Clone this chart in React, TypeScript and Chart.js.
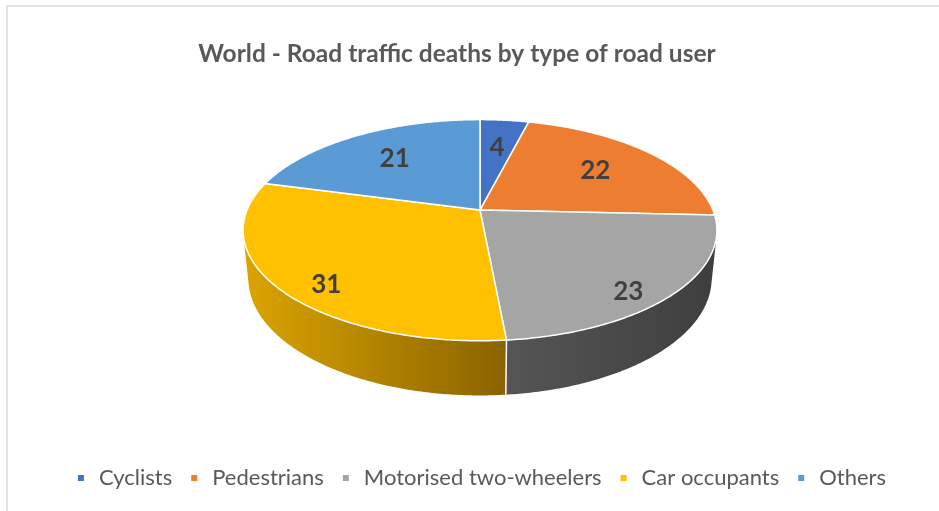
import React, { useEffect, useRef } from "react";
import { Chart, registerables } from "chart.js";

Chart.register(...registerables);

const categories = ["Cyclists", "Pedestrians", "Motorised two-wheelers", "Car occupants", "Others"];
const deaths = [4, 22, 23, 31, 21];
const topColors = ["#4472C4", "#ED7D31", "#A5A5A5", "#FFC000", "#5B9BD5"];
const sideLightColors = ["#3A64B0", "#D86C22", "#555555", "#DBA400", "#4C88C0"];
const sideDarkColors = ["#2A4A85", "#9E4E15", "#3E3E3E", "#8A6300", "#38668F"];
const chartTitle = "World - Road traffic deaths by type of road user";

// 3D view constants (camera tilt / distance / disc thickness)
const SIN_T = 0.459;
const COS_T = Math.sqrt(1 - SIN_T * SIN_T);
const CAM_D = 4.886;
const THICK = 0.236;
const SCALE_K = 1.273;
const SHIFT_K = 0.322;

const pie3d = {
  id: "pie3d",
  beforeDraw(chart: any) {
    const ctx = chart.ctx;
    ctx.save();
    ctx.strokeStyle = "#D9D9D9";
    ctx.lineWidth = 1.5;
    ctx.beginPath();
    ctx.moveTo(7, chart.height + 5);
    ctx.lineTo(7, 6);
    ctx.lineTo(chart.width + 5, 6);
    ctx.stroke();
    ctx.fillStyle = "#595959";
    ctx.font = "bold 24.5px Lato";
    ctx.textAlign = "center";
    ctx.textBaseline = "alphabetic";
    ctx.fillText(chartTitle, 457, 62);
    ctx.restore();
  },
  beforeDatasetsDraw(chart: any) {
    const ctx = chart.ctx;
    const arcs = chart.getDatasetMeta(0).data as any[];
    if (!arcs.length) return false;
    const R = arcs[0].outerRadius;
    const cx = arcs[0].x;
    const cy = arcs[0].y - R * SHIFT_K;
    const F = R * SCALE_K;
    const proj = (th: number, r: number, z: number) => {
      const u = r * Math.sin(th);
      const v = r * Math.cos(th);
      const depth = CAM_D + COS_T * v - SIN_T * z;
      return [cx + (F * CAM_D * u) / depth, cy - (F * CAM_D * (SIN_T * v + COS_T * z)) / depth];
    };
    const visLo = Math.acos(-1 / (CAM_D * COS_T));
    const visHi = 2 * Math.PI - visLo;
    ctx.save();
    ctx.lineJoin = "round";
    // side walls
    arcs.forEach((arc, i) => {
      const t1 = Math.max(arc.startAngle + Math.PI / 2, visLo);
      const t2 = Math.min(arc.endAngle + Math.PI / 2, visHi);
      if (t2 <= t1) return;
      const n = Math.max(2, Math.ceil((t2 - t1) / 0.01));
      const top: number[][] = [];
      const bot: number[][] = [];
      for (let k = 0; k <= n; k++) {
        const t = t1 + ((t2 - t1) * k) / n;
        top.push(proj(t, 1, 0));
        bot.push(proj(t, 1, -THICK));
      }
      const xs = top.map((p) => p[0]);
      const xmin = Math.min(...xs);
      const xmax = Math.max(...xs);
      const g = ctx.createLinearGradient(xmin, 0, xmax, 0);
      g.addColorStop(0, sideLightColors[i]);
      g.addColorStop(1, sideDarkColors[i]);
      ctx.beginPath();
      top.forEach((p, k) => (k ? ctx.lineTo(p[0], p[1]) : ctx.moveTo(p[0], p[1])));
      for (let k = bot.length - 1; k >= 0; k--) ctx.lineTo(bot[k][0], bot[k][1]);
      ctx.closePath();
      ctx.fillStyle = g;
      ctx.fill();
    });
    // side boundary lines
    ctx.strokeStyle = "#FFFFFF";
    ctx.lineWidth = 1.5;
    arcs.forEach((arc) => {
      const t = arc.startAngle + Math.PI / 2;
      if (t > visLo && t < visHi) {
        const a = proj(t, 1, 0);
        const b = proj(t, 1, -THICK);
        ctx.beginPath();
        ctx.moveTo(a[0], a[1]);
        ctx.lineTo(b[0], b[1]);
        ctx.stroke();
      }
    });
    // top faces
    arcs.forEach((arc, i) => {
      const t1 = arc.startAngle + Math.PI / 2;
      const t2 = arc.endAngle + Math.PI / 2;
      const n = Math.max(2, Math.ceil((t2 - t1) / 0.01));
      const c = proj(0, 0, 0);
      ctx.beginPath();
      ctx.moveTo(c[0], c[1]);
      for (let k = 0; k <= n; k++) {
        const p = proj(t1 + ((t2 - t1) * k) / n, 1, 0);
        ctx.lineTo(p[0], p[1]);
      }
      ctx.closePath();
      ctx.fillStyle = topColors[i];
      ctx.fill();
      ctx.strokeStyle = "#FFFFFF";
      ctx.lineWidth = 1.5;
      ctx.stroke();
    });
    // labels
    ctx.fillStyle = "#404040";
    ctx.font = "bold 26px Lato";
    ctx.textAlign = "center";
    ctx.textBaseline = "middle";
    const values = chart.data.datasets[0].data;
    arcs.forEach((arc, i) => {
      const tm = (arc.startAngle + arc.endAngle) / 2 + Math.PI / 2;
      const front = Math.max(0, -Math.cos(tm));
      const p = proj(tm, 0.66 + 0.2 * front, -THICK * 0.45 * front);
      ctx.fillText(String(values[i]), p[0], p[1]);
    });
    ctx.restore();
    return false;
  },
};

export default function App() {
  const ref = useRef<HTMLCanvasElement>(null);
  useEffect(() => {
    if (!ref.current) return;
    Chart.defaults.font.family = "Lato";
    const chart = new Chart(ref.current, {
      type: "pie",
      data: {
        labels: categories,
        datasets: [{ data: deaths, backgroundColor: topColors, borderWidth: 0 }],
      },
      options: {
        animation: false,
        responsive: true,
        maintainAspectRatio: false,
        layout: { padding: { top: 86, bottom: 12, left: 21, right: 0 } },
        plugins: {
          title: { display: false },
          tooltip: { enabled: false },
          legend: {
            position: "bottom",
            labels: {
              usePointStyle: true,
              pointStyle: "rect",
              boxWidth: 14,
              boxHeight: 6,
              padding: 15,
              color: "#595959",
              font: { family: "Lato", size: 22 },
            },
          },
        },
      },
      plugins: [pie3d],
    } as any);
    return () => chart.destroy();
  }, []);
  return (
    <div style={{ position: "fixed", left: 0, top: 0, width: 939, height: 511, background: "#fff" }}>
      <canvas ref={ref} />
    </div>
  );
}
